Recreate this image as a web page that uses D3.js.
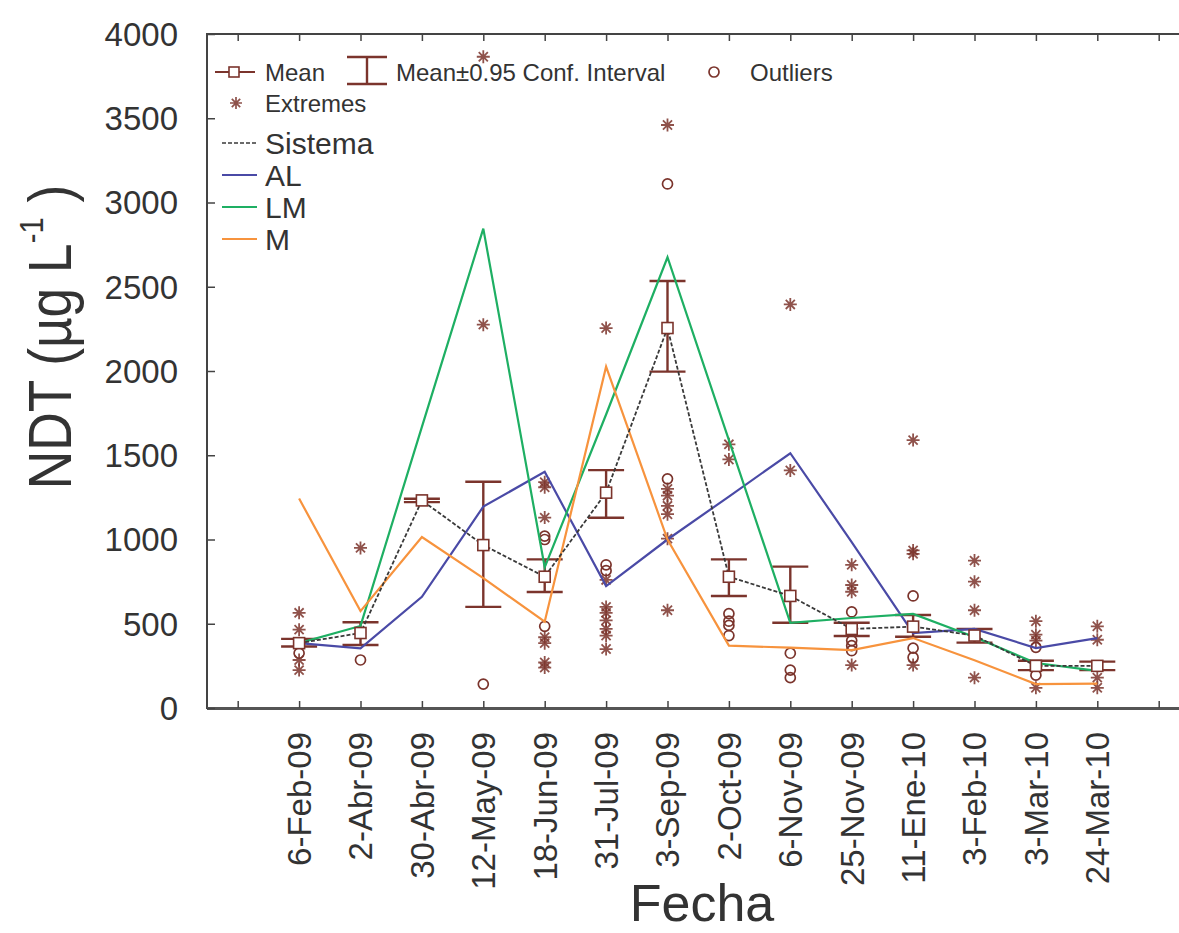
<!DOCTYPE html>
<html>
<head>
<meta charset="utf-8">
<script src="https://cdn.jsdelivr.net/npm/d3@7"></script>
<style>
  html, body { margin: 0; padding: 0; background: #fff; }
  svg { display: block; }
  text { font-family: "Liberation Sans", Arial, sans-serif; fill: #333; }
</style>
</head>
<body>
<svg id="chart" width="1179" height="933"></svg>
<script>
// Sampling dates
const categories = ["6-Feb-09", "2-Abr-09", "30-Abr-09", "12-May-09", "18-Jun-09", "31-Jul-09", "3-Sep-09",
  "2-Oct-09", "6-Nov-09", "25-Nov-09", "11-Ene-10", "3-Feb-10", "3-Mar-10", "24-Mar-10"];

// Whole-system mean and 95% confidence interval
const sistemaMean = [385, 445, 1232, 967, 779, 1278, 2255, 779, 665, 469, 483, 430, 250, 250];
const ciLow  = [365, 374, 1222, 600, 688, 1129, 1996, 665, 506, 427, 423, 388, 225, 225];
const ciHigh = [410, 509, 1242, 1343, 882, 1412, 2534, 882, 839, 506, 552, 469, 280, 275];

// Per-zone means
const seriesAL = [385, 354, 660, 1195, 1402, 724, 1000, 1255, 1512, 985, 445, 469, 356, 415];
const seriesLM = [385, 487, 1668, 2845, 835, 1742, 2675, 1590, 506, 534, 558, 421, 267, 220];
const seriesM  = [1243, 575, 1015, 771, 512, 2026, 1000, 370, 358, 344, 415, 283, 142, 145];

// Outliers and extremes per date
const outliers = [[325], [285], [], [142], [1020, 1000, 485], [850, 815], [3110, 1360],
  [560, 515, 490, 430], [325, 225, 180], [570, 400, 370, 340], [665, 355, 300], [], [360, 195], []];
const extremes = [[565, 465, 285, 225], [950], [], [3865, 2275], [1340, 1310, 1130, 420, 385, 270, 240],
  [2255, 760, 600, 565, 520, 470, 430, 350], [3460, 1300, 1260, 1200, 1150, 1005, 580], [1565, 1475],
  [2395, 1410], [850, 730, 690, 255], [1590, 935, 915, 255], [875, 750, 580, 180], [515, 435, 400, 120],
  [485, 405, 180, 120]];

const yTicks = [0, 500, 1000, 1500, 2000, 2500, 3000, 3500, 4000];

const BROWN = "#7b342c";
const AXIS = "#444";
const colors = { AL: "#4a4aa6", LM: "#1eaf63", M: "#f7933d", Sistema: "#3a3a3a" };

const svg = d3.select("#chart");

// slot 0 and slot 15 are empty; dates occupy slots 1..14
const x = d3.scaleLinear().domain([-0.5, 15.5]).range([207, 1189.4]);
const y = d3.scaleLinear().domain([0, 4000]).range([708, 34]);
const slots = d3.range(0, 16);

// frame
svg.append("rect").attr("x", x(-0.5)).attr("y", y(4000))
  .attr("width", x(15.5) - x(-0.5)).attr("height", y(0) - y(4000))
  .attr("fill", "none").attr("stroke", AXIS).attr("stroke-width", 2);
svg.append("line").attr("x1", x(-0.5)).attr("x2", x(15.5)).attr("y1", y(0) + 0.5).attr("y2", y(0) + 0.5)
  .attr("stroke", "#555").attr("stroke-width", 3);

// inward ticks
const yAxis = d3.axisLeft(y).tickValues(yTicks).tickSize(-8).tickFormat("");
svg.append("g").attr("transform", `translate(${x(-0.5)},0)`).call(yAxis)
  .call(g => g.select(".domain").remove())
  .call(g => g.selectAll("line").attr("stroke", AXIS).attr("stroke-width", 1.5));

const xBottom = d3.axisBottom(x).tickValues(slots).tickSize(-7).tickFormat("");
svg.append("g").attr("transform", `translate(0,${y(0)})`).call(xBottom)
  .call(g => g.select(".domain").remove())
  .call(g => g.selectAll("line").attr("stroke", AXIS).attr("stroke-width", 1.5));
const xTop = d3.axisTop(x).tickValues(slots).tickSize(-7).tickFormat("");
svg.append("g").attr("transform", `translate(0,${y(4000)})`).call(xTop)
  .call(g => g.select(".domain").remove())
  .call(g => g.selectAll("line").attr("stroke", AXIS).attr("stroke-width", 1.5));

// y tick labels
svg.append("g").selectAll("text").data(yTicks).join("text")
  .attr("x", 178).attr("y", d => y(d)).attr("dy", "0.36em")
  .attr("text-anchor", "end").attr("font-size", 33).text(d => d);

// x tick labels
svg.append("g").selectAll("text").data(categories).join("text")
  .attr("transform", (d, i) => `translate(${x(i + 1)},732) rotate(-90)`)
  .attr("dy", "0.36em").attr("text-anchor", "end").attr("font-size", 33).text(d => d);

// axis titles
svg.append("text").attr("transform", "translate(702,921)")
  .attr("text-anchor", "middle").attr("font-size", 52).text("Fecha");
const yt = svg.append("text").attr("transform", "translate(71,337) rotate(-90) scale(0.86,1)")
  .attr("text-anchor", "middle").attr("font-size", 62);
yt.append("tspan").text("NDT (µg L");
yt.append("tspan").attr("font-size", 34).attr("dy", -28).text("-1");
yt.append("tspan").attr("dy", 28).text(" )");

// error bars
const capW = 18;
const eb = svg.append("g").attr("stroke", BROWN).attr("stroke-width", 2.4);
categories.forEach((c, i) => {
  const cx = x(i + 1);
  eb.append("line").attr("x1", cx).attr("x2", cx).attr("y1", y(ciLow[i])).attr("y2", y(ciHigh[i]));
  eb.append("line").attr("x1", cx - capW).attr("x2", cx + capW).attr("y1", y(ciLow[i])).attr("y2", y(ciLow[i]));
  eb.append("line").attr("x1", cx - capW).attr("x2", cx + capW).attr("y1", y(ciHigh[i])).attr("y2", y(ciHigh[i]));
});

// asterisk marker path
function asterisk(s) {
  const d = s * 0.7;
  return `M${-s},0L${s},0M0,${-s}L0,${s}M${-d},${-d}L${d},${d}M${-d},${d}L${d},${-d}`;
}

const ptG = svg.append("g");
categories.forEach((c, i) => {
  const cx = x(i + 1);
  extremes[i].forEach(v => {
    ptG.append("path").attr("d", asterisk(6.5)).attr("transform", `translate(${cx},${y(v)})`)
      .attr("stroke", BROWN).attr("stroke-width", 1.8).attr("fill", "none").attr("opacity", 0.85);
  });
  outliers[i].forEach(v => {
    ptG.append("circle").attr("cx", cx).attr("cy", y(v)).attr("r", 5)
      .attr("fill", "none").attr("stroke", BROWN).attr("stroke-width", 1.7);
  });
});

// zone lines
const line = d3.line().x((d, i) => x(i + 1)).y(d => y(d));
[["AL", seriesAL], ["LM", seriesLM], ["M", seriesM]].forEach(([k, s]) => {
  svg.append("path").datum(s).attr("d", line).attr("fill", "none")
    .attr("stroke", colors[k]).attr("stroke-width", 2.2);
});
svg.append("path").datum(sistemaMean).attr("d", line).attr("fill", "none")
  .attr("stroke", colors.Sistema).attr("stroke-width", 1.8).attr("stroke-dasharray", "4,2");

// mean markers
svg.append("g").selectAll("rect").data(sistemaMean).join("rect")
  .attr("x", (d, i) => x(i + 1) - 5.5).attr("y", d => y(d) - 5.5)
  .attr("width", 11).attr("height", 11)
  .attr("fill", "#fff").attr("stroke", BROWN).attr("stroke-width", 1.6);

// legend
const lg = svg.append("g");
const row1 = 72;
lg.append("line").attr("x1", 215).attr("x2", 255).attr("y1", row1).attr("y2", row1)
  .attr("stroke", BROWN).attr("stroke-width", 2);
lg.append("rect").attr("x", 229).attr("y", row1 - 5).attr("width", 10).attr("height", 10)
  .attr("fill", "#fff").attr("stroke", BROWN).attr("stroke-width", 1.6);
lg.append("text").attr("x", 265).attr("y", row1).attr("dy", "0.36em").attr("font-size", 24).text("Mean");
lg.append("line").attr("x1", 367).attr("x2", 367).attr("y1", 57).attr("y2", 84).attr("stroke", BROWN).attr("stroke-width", 2.4);
lg.append("line").attr("x1", 347).attr("x2", 387).attr("y1", 57).attr("y2", 57).attr("stroke", BROWN).attr("stroke-width", 2.4);
lg.append("line").attr("x1", 347).attr("x2", 387).attr("y1", 84).attr("y2", 84).attr("stroke", BROWN).attr("stroke-width", 2.4);
lg.append("text").attr("x", 396).attr("y", row1).attr("dy", "0.36em").attr("font-size", 24).text("Mean±0.95 Conf. Interval");
lg.append("circle").attr("cx", 714).attr("cy", row1).attr("r", 5).attr("fill", "none").attr("stroke", BROWN).attr("stroke-width", 1.7);
lg.append("text").attr("x", 750).attr("y", row1).attr("dy", "0.36em").attr("font-size", 24).text("Outliers");
lg.append("path").attr("d", asterisk(6)).attr("transform", "translate(236,103)")
  .attr("stroke", BROWN).attr("stroke-width", 1.7).attr("opacity", 0.85);
lg.append("text").attr("x", 265).attr("y", 103).attr("dy", "0.36em").attr("font-size", 24).text("Extremes");

const zoneLegend = [
  { k: "Sistema", yy: 143, dash: "4,2", w: 1.6 },
  { k: "AL", yy: 175, dash: null, w: 2.2 },
  { k: "LM", yy: 207, dash: null, w: 2.2 },
  { k: "M", yy: 239, dash: null, w: 2.2 }
];
zoneLegend.forEach(z => {
  lg.append("line").attr("x1", 222).attr("x2", 257).attr("y1", z.yy).attr("y2", z.yy)
    .attr("stroke", colors[z.k]).attr("stroke-width", z.w).attr("stroke-dasharray", z.dash);
  lg.append("text").attr("x", 265).attr("y", z.yy).attr("dy", "0.36em").attr("font-size", 30).text(z.k);
});
</script>
</body>
</html>
